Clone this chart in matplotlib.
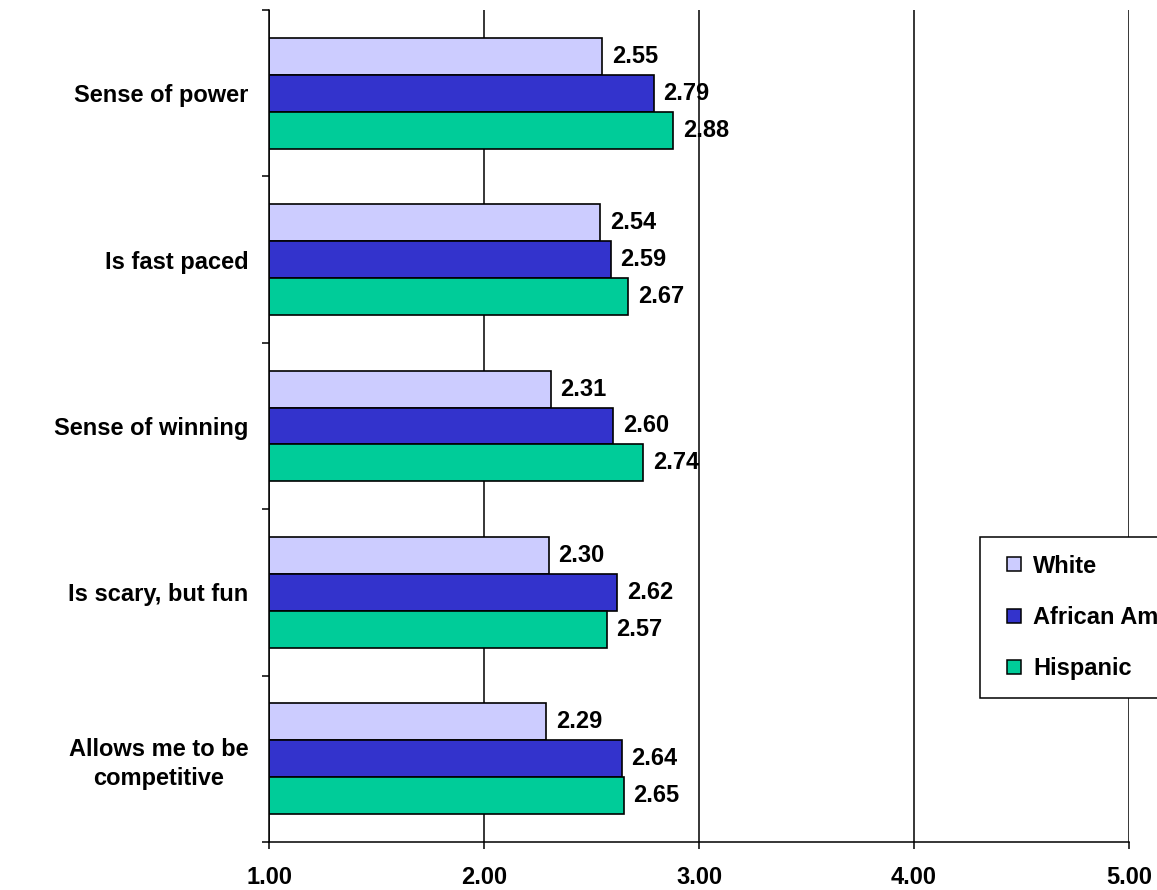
import matplotlib
matplotlib.use("Agg")
import matplotlib.pyplot as plt
from matplotlib.lines import Line2D
import numpy as np

categories = ["Sense of power", "Is fast paced", "Sense of winning",
              "Is scary, but fun", "Allows me to be\ncompetitive"]
series_names = ["White", "African American", "Hispanic"]
white = [2.55, 2.54, 2.31, 2.30, 2.29]
african_american = [2.79, 2.59, 2.60, 2.62, 2.64]
hispanic = [2.88, 2.67, 2.74, 2.57, 2.65]
colors = ["#CCCCFF", "#3333CC", "#00CC99"]
xticks = [1.0, 2.0, 3.0, 4.0, 5.0]

plt.rcParams['font.family'] = ['Liberation Sans', 'DejaVu Sans']
plt.rcParams['font.weight'] = 'bold'

fig = plt.figure(figsize=(11.57, 8.90), dpi=100)
ax = fig.add_axes([269/1157, 1-842/890, (1129-269)/1157, (842-10)/890])

n = len(categories)
gap = 1.5
bw = 1.0 / (3 + gap)
series = [white, african_american, hispanic]
centers = np.arange(n)
for i, (vals, col, name) in enumerate(zip(series, colors, series_names)):
    ypos = centers + (i - 1) * bw
    widths = [v - 1.0 for v in vals]
    ax.barh(ypos, widths, left=1.0, height=bw, color=col, edgecolor='black',
            linewidth=1.2, label=name, zorder=3)
    for y, v in zip(ypos, vals):
        ax.annotate(f"{v:.2f}", xy=(v, y), xytext=(7, 0), textcoords='offset points',
                    va='center', ha='left', fontsize=17, fontweight='bold', zorder=4)

ax.set_xlim(1.0, 5.0)
ax.set_ylim(n - 0.5, -0.5)
ax.set_xticks(xticks)
ax.set_xticklabels([f"{t:.2f}" for t in xticks], fontsize=17, fontweight='bold')
ax.set_yticks(np.arange(n + 1) - 0.5)
ax.set_yticklabels([])
ax.set_yticks(centers, minor=True)
ax.set_yticklabels(categories, minor=True, fontsize=17, fontweight='bold',
                   multialignment='center', linespacing=1.3)
ax.tick_params(axis='y', which='minor', length=0, pad=15)
ax.tick_params(axis='y', which='major', length=5, width=1.1, direction='out')
ax.tick_params(axis='x', which='major', length=5, width=1.1, direction='out', pad=12)

ax.grid(axis='x', color='black', linewidth=1.1, zorder=0)
ax.set_axisbelow(True)
for s in ['top', 'right']:
    ax.spines[s].set_visible(False)
for s in ['left', 'bottom']:
    ax.spines[s].set_linewidth(1.1)
    ax.spines[s].set_zorder(5)

handles = [Line2D([], [], linestyle='none', marker='s', markersize=9.5,
                  markerfacecolor=c, markeredgecolor='black', markeredgewidth=1.1)
           for c in colors]
leg = ax.legend(handles, series_names, loc='upper left',
                bbox_to_anchor=(980/1157, 1-537/890),
                bbox_transform=fig.transFigure, fontsize=17, frameon=True,
                fancybox=False, edgecolor='black', framealpha=1,
                handlelength=1.4, handletextpad=0.1,
                labelspacing=1.2, borderpad=0.75, borderaxespad=0)
leg.get_frame().set_linewidth(1.1)
leg.set_zorder(10)
for t in leg.get_texts():
    t.set_fontweight('bold')

fig.savefig("out.png", dpi=100)
